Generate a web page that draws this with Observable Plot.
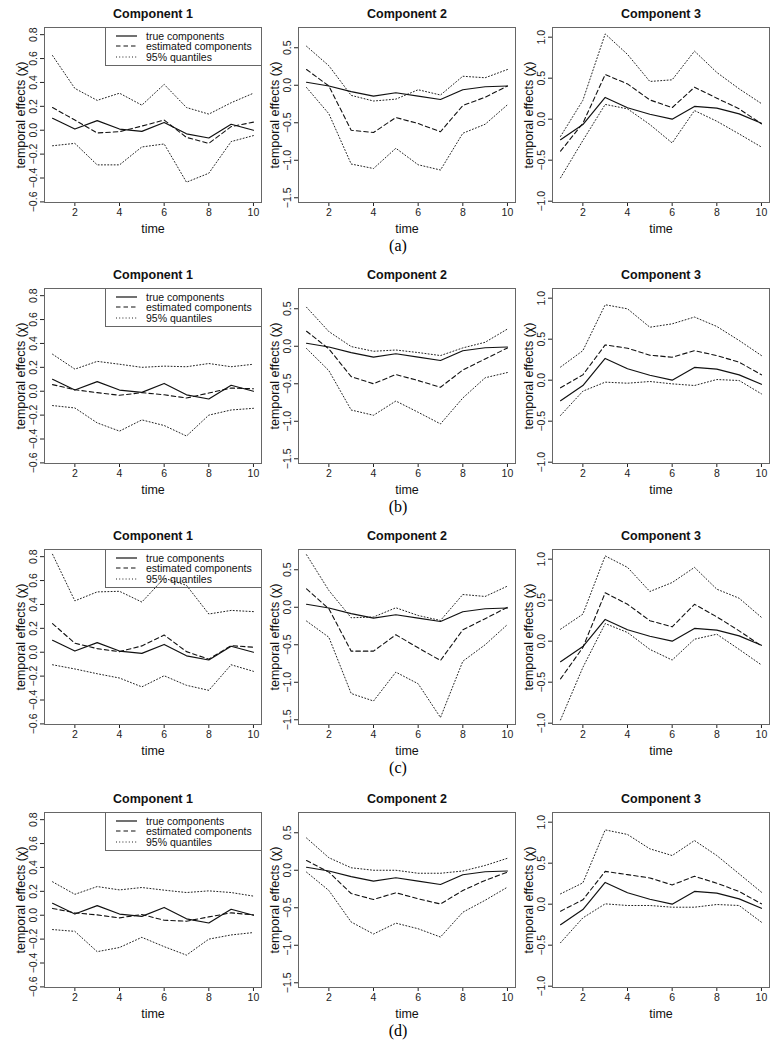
<!DOCTYPE html>
<html><head><meta charset="utf-8">
<script src="https://cdn.jsdelivr.net/npm/d3@7"></script>
<script src="https://cdn.jsdelivr.net/npm/@observablehq/plot@0.6"></script>
<style>
body{margin:0;background:#fff;}
#root{position:relative;width:777px;height:1050px;font-family:"Liberation Sans",Arial,sans-serif;overflow:hidden;}
.panel{position:absolute;}
.panel svg{background:transparent;overflow:visible;}
.legend{position:absolute;border:1px solid #666;box-sizing:border-box;font-size:10.5px;color:#111;}
.lg-row{position:absolute;left:0;height:12px;line-height:12px;white-space:nowrap;}
.lg-row svg{position:absolute;left:9px;top:0;}
.lg-row span{position:absolute;left:40px;top:0;}
.letter{position:absolute;font-family:"Liberation Serif",serif;font-size:16px;text-align:center;width:40px;line-height:18px;}
</style></head><body><div id="root"></div>
<script>
const time = [1,2,3,4,5,6,7,8,9,10];
const components = ["Component 1","Component 2","Component 3"];
const scenarios = ["(a)","(b)","(c)","(d)"];
const xTicks = [2,4,6,8,10];
const yTicks = [[-0.6,-0.4,-0.2,0,0.2,0.4,0.6,0.8],[-1.5,-1,-0.5,0,0.5],[-1,-0.5,0,0.5,1]];
const legendLabels = ["true components","estimated components","95% quantiles"];

const trueComponents = [
  [0.10,0.01,0.08,0.01,-0.01,0.065,-0.03,-0.065,0.05,0.0],
  [0.04,-0.01,-0.085,-0.145,-0.10,-0.145,-0.19,-0.06,-0.02,-0.01],
  [-0.25,-0.065,0.265,0.14,0.06,0.0,0.155,0.135,0.065,-0.05]
];

// scenario (a)
const estimatedA = [
  [0.19,0.085,-0.023,-0.012,0.035,0.085,-0.06,-0.11,0.03,0.068],
  [0.21,-0.01,-0.60,-0.63,-0.43,-0.51,-0.62,-0.27,-0.16,-0.01],
  [-0.39,-0.05,0.545,0.43,0.235,0.14,0.39,0.256,0.126,-0.057]
];
const upperA = [
  [0.625,0.35,0.25,0.31,0.21,0.384,0.19,0.135,0.23,0.31],
  [0.52,0.26,-0.135,-0.21,-0.185,-0.06,-0.13,0.12,0.10,0.21],
  [-0.21,0.23,1.04,0.79,0.46,0.48,0.83,0.57,0.37,0.19]
];
const lowerA = [
  [-0.13,-0.11,-0.29,-0.29,-0.14,-0.115,-0.435,-0.36,-0.095,-0.045],
  [-0.03,-0.38,-1.05,-1.11,-0.84,-1.06,-1.13,-0.64,-0.52,-0.26],
  [-0.715,-0.26,0.18,0.126,-0.065,-0.29,0.105,-0.025,-0.18,-0.34]
];

// scenario (b)
const estimatedB = [
  [0.055,0.013,-0.012,-0.034,-0.012,-0.03,-0.057,-0.015,0.027,0.021],
  [0.20,-0.035,-0.405,-0.50,-0.377,-0.457,-0.547,-0.316,-0.17,-0.022],
  [-0.093,0.065,0.43,0.39,0.305,0.28,0.36,0.30,0.22,0.065]
];
const upperB = [
  [0.31,0.185,0.25,0.226,0.20,0.21,0.205,0.232,0.205,0.226],
  [0.52,0.196,-0.004,-0.067,-0.05,-0.084,-0.124,-0.022,0.053,0.23],
  [0.16,0.36,0.92,0.87,0.646,0.687,0.77,0.655,0.484,0.30]
];
const lowerB = [
  [-0.12,-0.14,-0.265,-0.334,-0.24,-0.287,-0.375,-0.20,-0.157,-0.143],
  [-0.03,-0.325,-0.85,-0.92,-0.73,-0.88,-1.035,-0.69,-0.42,-0.35],
  [-0.43,-0.134,-0.024,-0.037,-0.016,-0.045,-0.065,0.008,-0.004,-0.167]
];

// scenario (c)
const estimatedC = [
  [0.24,0.075,0.03,0.005,0.053,0.144,0.005,-0.058,0.055,0.042],
  [0.246,-0.02,-0.585,-0.585,-0.367,-0.54,-0.71,-0.30,-0.153,0.0],
  [-0.46,-0.077,0.59,0.45,0.25,0.175,0.45,0.297,0.126,-0.057]
];
const upperC = [
  [0.82,0.43,0.505,0.51,0.42,0.62,0.56,0.32,0.35,0.34],
  [0.70,0.224,-0.14,-0.13,-0.007,-0.11,-0.176,0.17,0.144,0.282],
  [0.146,0.33,1.04,0.90,0.606,0.715,0.90,0.634,0.524,0.29]
];
const lowerC = [
  [-0.105,-0.14,-0.18,-0.216,-0.29,-0.197,-0.277,-0.319,-0.105,-0.16],
  [-0.184,-0.40,-1.15,-1.25,-0.865,-1.02,-1.47,-0.72,-0.50,-0.23],
  [-0.96,-0.32,0.215,0.106,-0.10,-0.23,0.024,0.085,-0.10,-0.29]
];

// scenario (d)
const estimatedD = [
  [0.057,0.02,0.003,-0.022,0.006,-0.042,-0.05,-0.014,0.02,0.003],
  [0.13,-0.025,-0.31,-0.39,-0.30,-0.38,-0.45,-0.27,-0.135,-0.025],
  [-0.085,0.053,0.40,0.36,0.32,0.235,0.34,0.256,0.155,0.004]
];
const upperD = [
  [0.28,0.175,0.24,0.212,0.232,0.21,0.19,0.204,0.19,0.16],
  [0.43,0.167,0.033,0.0,0.0,-0.04,-0.04,-0.01,0.064,0.16],
  [0.126,0.26,0.906,0.85,0.675,0.593,0.776,0.593,0.37,0.146]
];
const lowerD = [
  [-0.12,-0.135,-0.305,-0.27,-0.185,-0.263,-0.334,-0.20,-0.165,-0.145],
  [-0.025,-0.27,-0.69,-0.85,-0.705,-0.78,-0.89,-0.56,-0.40,-0.225],
  [-0.47,-0.167,0.004,-0.016,-0.016,-0.037,-0.037,-0.004,-0.016,-0.22]
];

const estimated = [estimatedA, estimatedB, estimatedC, estimatedD];
const upper = [upperA, upperB, upperC, upperD];
const lower = [lowerA, lowerB, lowerC, lowerD];

// layout (not data)
const yDomains = [[-0.605,0.86],[-1.563,0.77],[-1.016,1.118]];
const rowTop = [0, 261, 522, 785];
const colLeft = [0, 254, 508];
const FONT = "Liberation Sans, Arial, sans-serif";
const styles = {
  true: {stroke:"#111", strokeWidth:1.2},
  est: {stroke:"#111", strokeWidth:1.1, strokeDasharray:"4.5,3"},
  q: {stroke:"#222", strokeWidth:1, strokeDasharray:"1,2.2"}
};
const fmt = d => (d < 0 ? "\u2212" : "") + Math.abs(d).toFixed(1);
const series = arr => time.map((t, i) => ({t, v: arr[i]}));

const root = document.getElementById("root");

for (let r = 0; r < 4; r++) {
  for (let c = 0; c < 3; c++) {
    const chart = Plot.plot({
      width: 262, height: 240,
      marginLeft: 44, marginRight: 1, marginTop: 27, marginBottom: 38,
      style: {fontFamily: FONT, fontSize: "10.5px", background: "transparent", color: "#222"},
      x: {domain: [0.64, 10.36], ticks: xTicks, tickSize: 4, tickPadding: 2, label: null},
      y: {domain: yDomains[c], ticks: yTicks[c], tickSize: 4, tickFormat: () => "", label: null},
      marks: [
        Plot.frame({stroke: "#666", strokeWidth: 1}),
        Plot.line(series(lower[r][c]), {x: "t", y: "v", ...styles.q}),
        Plot.line(series(upper[r][c]), {x: "t", y: "v", ...styles.q}),
        Plot.line(series(estimated[r][c]), {x: "t", y: "v", ...styles.est}),
        Plot.line(series(trueComponents[c]), {x: "t", y: "v", ...styles.true}),
        Plot.text(yTicks[c], {y: d => d, text: d => fmt(d), frameAnchor: "left", dx: -11, rotate: -90,
          textAnchor: "middle", lineAnchor: "middle", fontSize: 10.5, fill: "#222"}),
        Plot.text(["temporal effects (\u03C7)"], {frameAnchor: "left", dx: -24, rotate: -90,
          textAnchor: "middle", lineAnchor: "middle", fontSize: 12.5, fill: "#111"}),
        Plot.text(["time"], {frameAnchor: "bottom", dy: 26, lineAnchor: "middle", fontSize: 12.5, fill: "#111"}),
        Plot.text([components[c]], {frameAnchor: "top", dy: -10, lineAnchor: "bottom", fontSize: 12.5,
          fontWeight: "bold", fill: "#111"})
      ]
    });
    const div = document.createElement("div");
    div.className = "panel";
    div.style.left = colLeft[c] + "px";
    div.style.top = rowTop[r] + "px";
    div.appendChild(chart);
    root.appendChild(div);
  }
  // legend in Component 1 panel
  const lg = document.createElement("div");
  lg.className = "legend";
  lg.style.left = "105px";
  lg.style.top = (rowTop[r] + 27) + "px";
  lg.style.width = "157px";
  lg.style.height = "39px";
  const keys = [styles.true, styles.est, styles.q];
  legendLabels.forEach((lab, i) => {
    const row = document.createElement("div");
    row.className = "lg-row";
    row.style.top = (1.5 + i * 10.6) + "px";
    const st = keys[i];
    row.innerHTML = `<svg width="23" height="12"><line x1="1" x2="22" y1="6" y2="6" stroke="${st.stroke}" stroke-width="${st.strokeWidth}" ${st.strokeDasharray ? `stroke-dasharray="${st.strokeDasharray}"` : ""}/></svg><span>${lab}</span>`;
    lg.appendChild(row);
  });
  root.appendChild(lg);
  const letter = document.createElement("div");
  letter.className = "letter";
  letter.style.left = "378px";
  letter.style.top = (rowTop[r] + 237) + "px";
  letter.textContent = scenarios[r];
  root.appendChild(letter);
}
</script>
</body></html>
